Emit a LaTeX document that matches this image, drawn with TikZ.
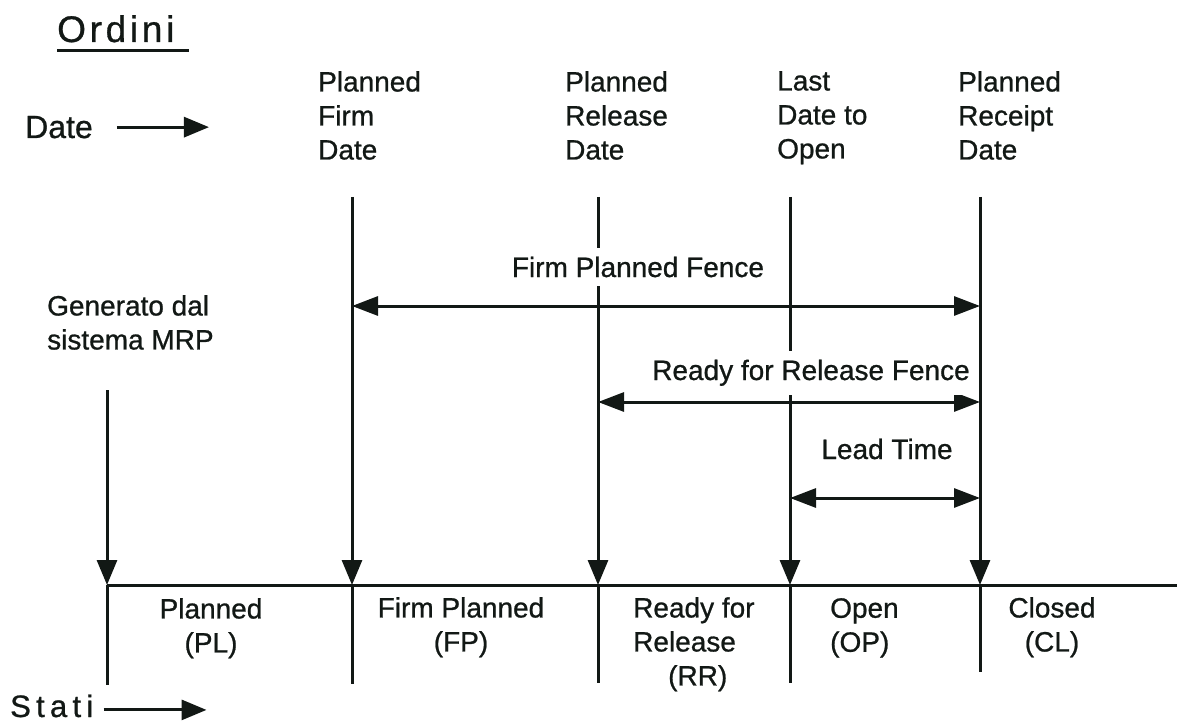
\documentclass[tikz,border=0pt]{standalone}
\usepackage{fontspec}
\setmainfont{Liberation Sans}[FakeBold=0.8]
\usetikzlibrary{arrows.meta}
\definecolor{ink}{HTML}{121815}

\begin{document}
\begin{tikzpicture}[x=1pt,y=-1pt,color=ink,
  lbl/.style={font=\fontsize{28}{34}\selectfont, inner sep=0pt},
  gaplbl/.style={lbl, fill=white, inner xsep=3pt, inner ysep=9pt},
  thickline/.style={line width=3pt},
  downarrow/.style={-{Triangle[length=25pt,width=20pt]}},
  spanarrow/.style={{Triangle[length=26pt,width=19pt]}-{Triangle[length=26pt,width=19pt]}}]
  \useasboundingbox (0,0) rectangle (1184,722);
  \foreach \n/\x/\t/\e in {mrp/107/390/685, pf/352/197/684, pr/598/197/683, lo/790/197/683, pc/980/197/672}{
    \coordinate (\n-top) at (\x,\t);
    \coordinate (\n-axis) at (\x,585);
    \coordinate (\n-end) at (\x,\e);
    \draw[thickline,downarrow] (\n-top) -- (\n-axis);
    \draw[thickline] (\n-axis) -- (\n-end);
  }
  \coordinate (axis-end) at (1177,585);
  \draw[thickline] (mrp-axis) -- (axis-end);
  \foreach \a/\y in {pf/306, pr/402, lo/498}{
    \draw[thickline,spanarrow] (\a-top |- 0,\y) -- (pc-top |- 0,\y);
  }
  \node[gaplbl, anchor=base] (fpf) at (638,277) {Firm Planned Fence};
  \node[gaplbl, anchor=base] (rrf) at (811,380) {Ready for Release Fence};
  \node[lbl, anchor=base] (ltl) at (887,459) {Lead Time};
  \node[lbl, anchor=north west, align=left] (pfd) at (318,71) {Planned\\Firm\\Date};
  \node[lbl, anchor=north west, align=left] (prd) at (565,71) {Planned\\Release\\Date};
  \node[lbl, anchor=north west, align=left] (ldo) at (777,71) {Last\\Date to\\Open};
  \node[lbl, anchor=north west, align=left] (prcd) at (958,71) {Planned\\Receipt\\Date};
  \node[lbl, anchor=north west, align=left] (gen) at (47,295) {Generato dal\\sistema MRP};
  \node[lbl, anchor=north, align=center] (pl) at (211,598) {Planned\\(PL)};
  \node[lbl, anchor=north, align=center] (fp) at (461,597) {Firm Planned\\(FP)};
  \node[lbl, anchor=north west, align=left] (rr) at (633,597) {Ready for\\Release\\\hspace*{35pt}(RR)};
  \node[lbl, anchor=north west, align=left] (op) at (830,598) {Open\\(OP)};
  \node[lbl, anchor=north, align=center] (cl) at (1052,597) {Closed\\(CL)};
  \node[font=\fontsize{37}{40}\selectfont\addfontfeatures{LetterSpace=10}, inner sep=0pt, anchor=base west] (ordini) at (57,42) {Ordini};
  \draw[thickline] ([yshift=-9pt]ordini.base west) -- ([xshift=14pt,yshift=-9pt]ordini.base east);
  \node[font=\fontsize{32}{36}\selectfont, inner sep=0pt, anchor=base west] (date) at (25,138) {Date};
  \draw[thickline,downarrow] ([xshift=24pt]date.east) -- ([xshift=116pt]date.east);
  \node[font=\fontsize{31}{36}\selectfont\addfontfeatures{LetterSpace=17}, inner sep=0pt, anchor=base west] (stati) at (10,717) {Stati};
  \draw[thickline,downarrow] ([xshift=10pt,yshift=-4pt]stati.east) -- ([xshift=113pt,yshift=-4pt]stati.east);
\end{tikzpicture}
\end{document}
